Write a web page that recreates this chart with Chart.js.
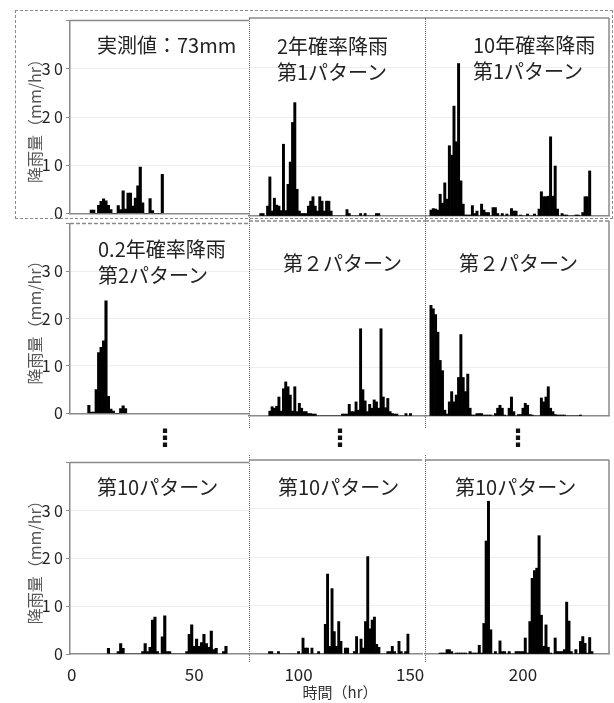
<!DOCTYPE html>
<html>
<head>
<meta charset="utf-8">
<script src="https://cdn.jsdelivr.net/npm/chart.js@4.4.1/dist/chart.umd.min.js"></script>
<style>
  html, body { margin: 0; padding: 0; background: #fff; }
  #page { position: relative; width: 614px; height: 703px; overflow: hidden;
          font-family: "Noto Sans CJK JP", sans-serif; }
  #page canvas { position: absolute; }
  .note { position: absolute; font-size: 20px; line-height: 26px; color: #222; white-space: nowrap; }
  .vdots { position: absolute; width: 30px; margin-left: -15px; text-align: center;
           font: bold 24px "DejaVu Sans", sans-serif; color: #111; line-height: 24px; }
  .divider { position: absolute; width: 0; border-left: 1px dotted #666; }
  #xtitle { position: absolute; left: 290px; width: 100px; top: 683px; text-align: center;
            font-size: 15px; line-height: 18px; color: #333; }
</style>
</head>
<body>
<div id="page"></div>
<script>
// ---- data: hourly rainfall (mm/hr); each series starts at the given hour ----
const obsStart = 8;
const obsRain = [0.7,0.7,0,1.7,2.5,3.0,2.6,1.7,0.8,0,0,1.6,0.8,4.7,0.9,4.2,4.2,1.5,3.2,5.7,9.6,2.2,0,0,3.1,0.6,0,0,0,8.1];

const rp2p1Start = 83;
const rp2p1Rain = [0.5,0.5,0,2.0,7.9,1.0,3.6,2.2,2.0,1.1,14.5,1.1,6.4,10.9,18.9,22.9,5.4,1.0,0.5,0.5,0.5,2.0,3.0,3.9,2.0,1.0,3.9,3.0,1.0,3.0,3.0,1.0,
  0,0,0,0,0,0,1.3,0.5,0,0,0,0,0.5,0,0.5,0,0,0,0,0.5,0.5];

const rp10p1Start = 160;
const rp10p1Rain = [1.2,1.5,1.4,1.2,4.4,2.6,6.7,3.4,14.2,12.3,22.2,15.0,30.8,7.1,2.4,0.2,0.2,0.2,2.1,0.5,1.0,0,2.4,1.2,0.7,0.7,0,1.7,1.7,0.5,
  0,0.5,0,0.4,0,1.5,1.0,1.0,0,0.2,0,0,0.4,0,0,0.4,0,1.4,4.9,3.9,3.9,4.0,16.0,4.0,10.1,1.4,0,0.5,0.2,0.2,0,0,0,0.2,0.2,0,0.7,3.9,3.9,9.1];

const rp02p2Start = 7;
const rp02p2Rain = [1.7,0.3,0.3,5.0,12.8,13.9,15.3,23.7,3.6,0.9,0.5,0,0,1.0,1.6,1.0];

const mid2Start = 87;
const mid2Rain = [1.0,1.9,1.6,2.0,3.9,1.0,5.6,7.0,6.0,4.3,1.0,6.0,0.9,2.6,1.6,0.9,0.9,0.5,0.5,0.4,0.4,
  0,0,0,0,0,0,0,0,0,0,0,
  0.4,0.4,0.4,2.4,0.9,0.9,2.9,1.2,17.9,5.4,3.1,0.9,2.4,1.6,3.3,2.9,1.6,17.9,3.9,1.7,3.6,0.9,0.5,0.4,0.4,0,0,0,0.5,0,0.5];

const late2Start = 160;
const late2Rain = [22.7,22.0,20.8,17.2,11.4,9.3,1.2,0.4,2.9,5.0,2.9,4.3,7.9,16.7,7.9,5.0,8.6,1.6,0.2,0.2,0.5,0.5,0.5,0.2,0.2,0.2,0.2,0,
  0.5,1.6,2.2,1.6,0.2,0,1.6,3.9,0.9,0,0.3,0.3,1.6,2.6,2.2,0.3,0.2,0,0,0,3.7,2.9,3.9,6.0,1.6,0.9,0.3,0.2,0.2,0.2,0.2,0,0,0,0,0,0,0.2];

const early10Start = 15;
const early10Rain = [1.2,0,0,0,0.5,2.2,1.2,0,0,0,0,0,0,0,0.5,2.2,0.5,1.4,7.1,7.7,0.5,0,3.6,8.0,0.5,0.5,0,0,0,0,0,0,
  0.5,4.1,6.1,1.6,3.1,1.6,2.4,4.1,2.2,1.4,4.8,0.9,1.2,0,0,0.5,1.6];

const mid10Start = 87;
const mid10Rain = [0.5,0.5,0,0,0.5,0,0,0,0,0,0,0,0,0.5,0,3.3,1.2,1.2,0,1.2,0,0,0.5,0,0,6.1,16.5,1.6,13.5,4.6,1.6,6.7,2.6,0,1.2,1.2,
  0,0,0.5,3.6,0,3.1,1.2,6.7,20.1,5.2,7.0,7.6,2.0,1.4,0,0,0,0.5,0.5,1.6,0.5,0,2.6,0.5,0,0.5,4.1];

const late10Start = 164;
const late10Rain = [0.2,0.2,0.2,0.9,0.9,0.5,0,0.2,0.2,0.2,0.2,0.2,0,0.5,0.2,0.2,0.2,1.8,0.2,6.3,23.3,31.5,5.0,0,0.5,0,2.7,0.5,0.5,0,
  0.5,0,0,0.5,0.5,0.5,0.5,3.3,0.2,6.7,15.6,17.2,17.7,24.4,8.0,1.6,6.0,1.4,0.2,0,3.3,0.5,0.5,0.5,0.9,10.7,6.8,0.5,0,0.9,0,2.6,3.6,2.2,0.2,3.4,0.5];

// axis ticks
const yTickValues = [0, 10, 20, 30, 40];
const yTickLabels = ["0", "1 0", "2 0", "3 0", ""];
const xTickValues = [[0, 50], [100, 150], [200]];
const xRanges = [[-0.7, 72.4], [77.8, 155.4], [157.4, 237.4]];

// panel captions (one entry per panel, row by row)
const panelTitles = [
  ["実測値：73mm"], ["2年確率降雨", "第1パターン"], ["10年確率降雨", "第1パターン"],
  ["0.2年確率降雨", "第2パターン"], ["第２パターン"], ["第２パターン"],
  ["第10パターン"], ["第10パターン"], ["第10パターン"]
];

const panelSeries = [
  [obsStart, obsRain], [rp2p1Start, rp2p1Rain], [rp10p1Start, rp10p1Rain],
  [rp02p2Start, rp02p2Rain], [mid2Start, mid2Rain], [late2Start, late2Rain],
  [early10Start, early10Rain], [mid10Start, mid10Rain], [late10Start, late10Rain]
];

// ---- layout ----
const ROWS = [
  { top: 18,  base: 216, dashedTop: false },
  { top: 221, base: 416, dashedTop: true },
  { top: 460, base: 654, dashedTop: false }
];
const COLS = [
  { left: 70,  right: 249 },
  { left: 249, right: 425 },
  { left: 425, right: 609 }
];
const titlePos = [
  [97, 32], [277, 33], [473, 32],
  [98, 236], [283, 250], [459, 250],
  [97, 474], [278, 474], [455, 474]
];

Chart.defaults.font.family = '"Noto Sans CJK JP", sans-serif';

const page = document.getElementById('page');
const AXIS_GRAY = '#8a8a8a';

// frame lines along the top (and the right edge of the last column)
const framePlugin = {
  id: 'frame',
  afterDraw(chart, args, opts) {
    const { ctx, chartArea: a } = chart;
    ctx.save();
    ctx.strokeStyle = AXIS_GRAY;
    ctx.lineWidth = 1.5;
    if (opts.dashedTop) ctx.setLineDash([4, 2]);
    ctx.beginPath();
    ctx.moveTo(a.left, a.top);
    ctx.lineTo(a.right, a.top);
    ctx.stroke();
    ctx.setLineDash([]);
    if (opts.right) {
      ctx.beginPath();
      ctx.moveTo(a.right, a.top);
      ctx.lineTo(a.right, a.bottom);
      ctx.stroke();
    }
    ctx.restore();
  }
};

function makePanel(r, c) {
  const row = ROWS[r], col = COLS[c];
  const isBottom = r === 2;
  const padL = c === 0 ? 0 : 10;
  const padR = 10, padT = 10;
  const axisH = isBottom ? 40 : 0;
  const padB = isBottom ? 0 : 10;
  const cvLeft = c === 0 ? 0 : col.left - padL;
  const cvTop = row.top - padT;
  const cvW = col.right - cvLeft + padR;
  const cvH = row.base - cvTop + axisH + padB;

  const canvas = document.createElement('canvas');
  canvas.width = cvW; canvas.height = cvH;
  canvas.style.left = cvLeft + 'px';
  canvas.style.top = cvTop + 'px';
  canvas.style.width = cvW + 'px';
  canvas.style.height = cvH + 'px';
  page.appendChild(canvas);

  const [start, values] = panelSeries[r * 3 + c];
  const points = values.map((v, i) => ({ x: start + i, y: v }));

  const yAxis = {
    min: 0, max: 40,
    afterBuildTicks: s => { s.ticks = yTickValues.map(v => ({ value: v })); },
    grid: {
      color: ctx => (ctx.tick && ctx.tick.value > 0 && ctx.tick.value < 40) ? '#eeeeee' : 'rgba(0,0,0,0)',
      drawTicks: c === 0, tickLength: 4, tickColor: AXIS_GRAY
    },
    border: { display: c === 0, color: AXIS_GRAY, width: 1.5 },
    ticks: {
      display: c === 0, padding: 3, color: '#222', font: { size: 16 },
      callback: v => yTickLabels[yTickValues.indexOf(v)]
    },
    title: {
      display: c === 0, text: '降雨量（mm/hr）', color: '#555',
      font: { size: 16 }, padding: { top: 25, bottom: 0 }
    },
    afterFit: s => { s.width = c === 0 ? 70 : 0; }
  };

  const xAxis = {
    type: 'linear', offset: false,
    min: xRanges[c][0], max: xRanges[c][1],
    afterBuildTicks: s => { s.ticks = xTickValues[c].map(v => ({ value: v })); },
    grid: { color: 'rgba(0,0,0,0)', drawTicks: false },
    border: { display: true, color: AXIS_GRAY, width: 1.5 },
    ticks: { display: isBottom, padding: 10, color: '#222', font: { size: 17 }, maxRotation: 0 },
    afterFit: s => { s.height = axisH; }
  };

  new Chart(canvas, {
    type: 'bar',
    data: {
      datasets: [{
        data: points,
        backgroundColor: '#000',
        borderWidth: 0,
        barPercentage: 1.0,
        categoryPercentage: 1.0
      }]
    },
    options: {
      responsive: false,
      animation: false,
      devicePixelRatio: 1,
      layout: { padding: { left: padL, right: padR, top: padT, bottom: padB } },
      scales: { x: xAxis, y: yAxis },
      plugins: {
        legend: { display: false },
        tooltip: { enabled: false },
        frame: { dashedTop: row.dashedTop, right: c === 2 }
      }
    },
    plugins: [framePlugin]
  });
}

for (let r = 0; r < 3; r++) for (let c = 0; c < 3; c++) makePanel(r, c);

// dashed box around the first row
const box = document.createElement('div');
Object.assign(box.style, {
  position: 'absolute', left: '15px', top: '10px', width: '596px', height: '207px',
  border: '1.5px dashed #8a8a8a'
});
page.appendChild(box);

// dotted separators between the time windows
[[249, 18, 428], [425, 18, 428], [249, 455, 662], [425, 455, 662]].forEach(([x, y0, y1]) => {
  const d = document.createElement('div');
  d.className = 'divider';
  d.style.left = x + 'px';
  d.style.top = y0 + 'px';
  d.style.height = (y1 - y0) + 'px';
  page.appendChild(d);
});

// panel captions
panelTitles.forEach((lines, i) => {
  const t = document.createElement('div');
  t.className = 'note';
  t.style.left = titlePos[i][0] + 'px';
  t.style.top = titlePos[i][1] + 'px';
  t.innerHTML = lines.join('<br>');
  page.appendChild(t);
});

// continuation marks between the second and last rows
[165, 340, 518].forEach(x => {
  const d = document.createElement('div');
  d.className = 'vdots';
  d.style.left = x + 'px';
  d.style.top = '426px';
  d.textContent = '⋮';
  page.appendChild(d);
});

// x-axis title
const xt = document.createElement('div');
xt.id = 'xtitle';
xt.textContent = '時間（hr）';
page.appendChild(xt);
</script>
</body>
</html>
